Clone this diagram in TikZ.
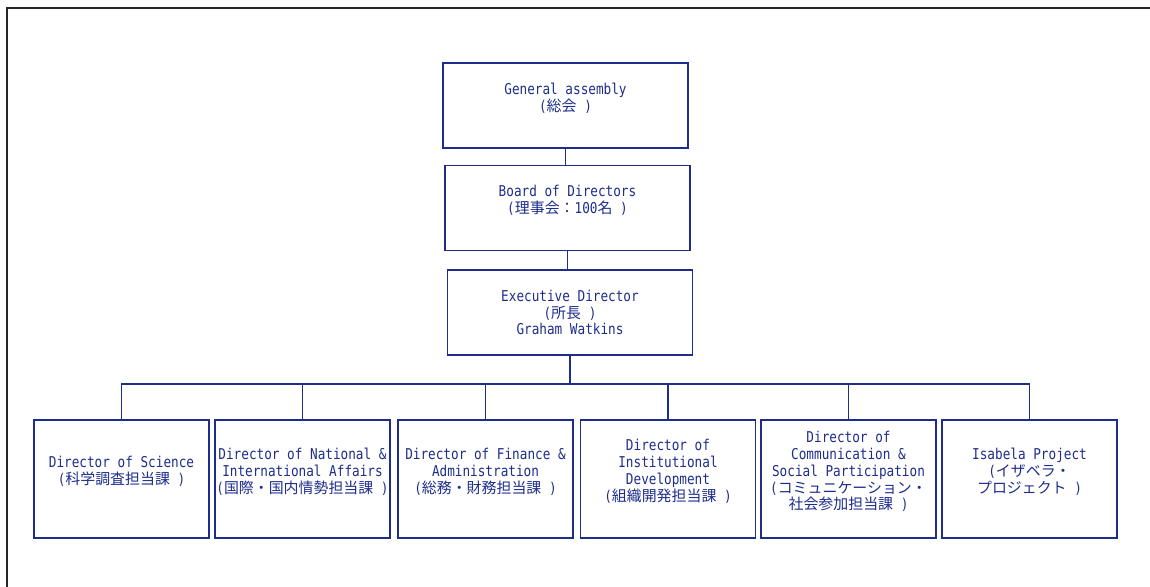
\documentclass[tikz,border=0pt]{standalone}
\usepackage{fontspec}
\setmainfont[FakeStretch=0.85]{DejaVu Sans Mono}
\newfontfamily\jpfont{Noto Sans CJK JP}
\newcommand{\jp}[1]{{\jpfont #1}}
\usetikzlibrary{positioning}
\definecolor{orgblue}{RGB}{30,45,140}
\tikzset{
	unit/.style={draw=orgblue, line width=0.7pt, text=orgblue, align=center, inner sep=0pt, minimum width=3.5cm, minimum height=2.36cm, font=\fontsize{8.5pt}{9.6pt}\selectfont},
	topunit/.style={unit, minimum width=4.9cm, minimum height=1.7cm},
	link/.style={draw=orgblue, line width=0.7pt}
}
\begin{document}
\begin{tikzpicture}[x=0.02cm, y=-0.02cm]
			\useasboundingbox (0,0) rectangle (1150,587);
			% Frame
			\draw [line width=1.3pt, black!85] (7,587) -- (7,8) -- (1150,8);
			
			% Top of the organisation
			\node (GA) [topunit] at (565.5,105.5) {General assembly\\(\jp{総会}~)\\ ~};
			\node (BD) [topunit] at (567.5,208) {Board of Directors\\(\jp{理事会：}100\jp{名}~)\\ ~};
			\node (ED) [topunit] at (570,312.5) {Executive Director\\(\jp{所長}~)\\Graham Watkins};
			
			% Directors
			\node (SCI) [unit] at (121.5,479) {Director of Science\\(\jp{科学調査担当課}~)\\ ~};
			\node (NAT) [unit] at (302.5,479) {Director of National \&\\International Affairs\\(\jp{国際・国内情勢担当課}~)\\ ~};
			\node (FIN) [unit] at (485.5,479) {Director of Finance \&\\Administration\\(\jp{総務・財務担当課}~)\\ ~};
			\node (INS) [unit] at (668,479) {Director of\\Institutional\\Development\\(\jp{組織開発担当課}~)\\ ~};
			\node (COM) [unit] at (848.5,479) {Director of\\Communication \&\\Social Participation\\(\jp{コミュニケーション・}\\\jp{社会参加担当課}~)\\ ~};
			\node (ISA) [unit] at (1029.5,479) {Isabela Project\\(\jp{イザベラ・}\\\jp{プロジェクト}~)\\ ~};
			
			% Lines
			\draw [link] (GA.south) -- (GA.south |- BD.north);
			\draw [link] (BD.south) -- (BD.south |- ED.north);
			\coordinate (bus) at (ED.south |- 0,384);
			\draw [link, line width=1.2pt] (ED.south) -- (bus);
			\foreach \n in {SCI,NAT,FIN,INS,COM,ISA}
				\draw [link] (bus) -| (\n.north);
		\end{tikzpicture}
\end{document}
